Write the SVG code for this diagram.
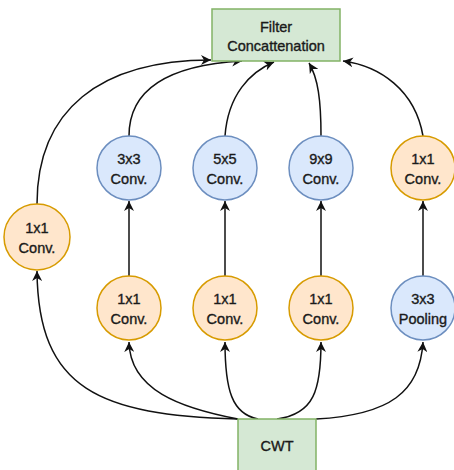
<svg xmlns="http://www.w3.org/2000/svg" width="454" height="470" viewBox="0 0 454 470">
<style>
.box{fill:#d5e8d4;stroke:#82b366;stroke-width:1.5}
.org{fill:#ffe6cc;stroke:#d79b00;stroke-width:1.5}
.blu{fill:#dae8fc;stroke:#6c8ebf;stroke-width:1.5}
text{font-family:"Liberation Sans",Arial,sans-serif;font-size:14.5px;fill:#1a1a1a;stroke:#1a1a1a;stroke-width:0.35;text-anchor:middle}
.e{fill:none;stroke:#111;stroke-width:1.5;marker-end:url(#ah)}
</style>
<defs>
<marker id="ah" markerUnits="userSpaceOnUse" markerWidth="11" markerHeight="10" refX="10" refY="5" orient="auto">
<path d="M0,0 L10,5 L0,10 L3,5 z" fill="#111"/>
</marker>
</defs>
<rect width="454" height="470" fill="#fff"/>
<g id="connectors">
<path class="e" d="M37,204 C37,110 100,60 211,60"/>
<path class="e" d="M129,136 C129,88 170,65 242,61"/>
<path class="e" d="M225,136 C228,95 250,72 274,62"/>
<path class="e" d="M321,136 C321,100 318,78 309,63"/>
<path class="e" d="M423,136 C415,90 380,66 343,61"/>
<path class="e" d="M129,276 L129,201"/>
<path class="e" d="M225,276 L225,201"/>
<path class="e" d="M321,276 L321,201"/>
<path class="e" d="M423,276 L423,201"/>
<path class="e" d="M238,419 C100,415 38,390 37,271"/>
<path class="e" d="M238,419 C180,408 130,390 129,342"/>
<path class="e" d="M258,419 C232,414 225,390 225,342"/>
<path class="e" d="M277,419 C314,414 321,390 321,342"/>
<path class="e" d="M316,419 C390,415 420,392 423,342"/>
</g>
<g id="concat"><rect class="box" x="212" y="9" width="128" height="52"/><text x="276" y="32">Filter</text><text x="276" y="51">Concattenation</text></g>
<g id="cwt"><rect class="box" x="238" y="419" width="78" height="60"/><text x="277" y="451">CWT</text></g>
<g id="conv1x1a"><circle class="org" cx="37" cy="237" r="33"/><text x="37" y="233">1x1</text><text x="37" y="253">Conv.</text></g>
<g id="conv3x3"><circle class="blu" cx="129" cy="168" r="32"/><text x="129" y="164">3x3</text><text x="129" y="184">Conv.</text></g>
<g id="conv5x5"><circle class="blu" cx="225" cy="168" r="32"/><text x="225" y="164">5x5</text><text x="225" y="184">Conv.</text></g>
<g id="conv9x9"><circle class="blu" cx="321" cy="168" r="32"/><text x="321" y="164">9x9</text><text x="321" y="184">Conv.</text></g>
<g id="conv1x1e"><circle class="org" cx="423" cy="168" r="32"/><text x="423" y="164">1x1</text><text x="423" y="184">Conv.</text></g>
<g id="conv1x1b"><circle class="org" cx="129" cy="308" r="32"/><text x="129" y="304">1x1</text><text x="129" y="324">Conv.</text></g>
<g id="conv1x1c"><circle class="org" cx="225" cy="308" r="32"/><text x="225" y="304">1x1</text><text x="225" y="324">Conv.</text></g>
<g id="conv1x1d"><circle class="org" cx="321" cy="308" r="32"/><text x="321" y="304">1x1</text><text x="321" y="324">Conv.</text></g>
<g id="pool3x3"><circle class="blu" cx="423" cy="308" r="32"/><text x="423" y="304">3x3</text><text x="423" y="324">Pooling</text></g>
</svg>
